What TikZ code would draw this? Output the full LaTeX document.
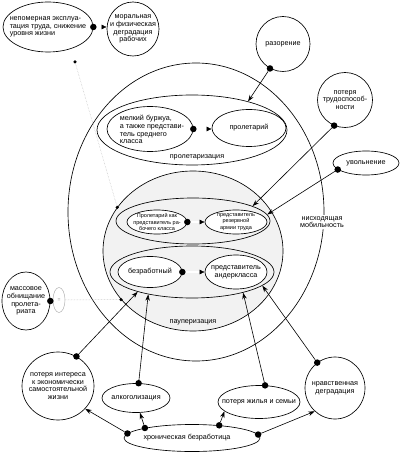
\documentclass[tikz,border=0pt]{standalone}
\usepackage{fontspec}
\setmainfont{Liberation Sans}
\usetikzlibrary{shapes.geometric,arrows.meta,calc}
\begin{document}
\begin{tikzpicture}[x=1pt,y=-1pt,
  bub/.style={draw, ellipse, inner sep=0pt, line width=0.65pt},
  lab/.style={font=\fontsize{7.2}{7.8}\selectfont, align=center, inner sep=0pt},
  slab/.style={font=\fontsize{5.5}{6.6}\selectfont, align=center, inner sep=0pt},
  bdot/.style={circle, fill=black, inner sep=0pt, minimum size=6.5pt},
  sdot/.style={circle, fill=black, inner sep=0pt, minimum size=3.5pt},
  arr/.style={-{Stealth[length=6.5pt,width=4.5pt]}, line width=0.6pt},
  dbl/.style={double, double distance=1.3pt, line width=0.45pt},
  tip/.style={-{Latex[length=5pt,width=5pt]}, line width=0.5pt},
  faint/.style={densely dotted, gray!50, line width=0.5pt}]
\useasboundingbox (0,0) rectangle (402,454);

% big regions
\node[bub, minimum width=256pt, minimum height=298pt] (mob) at (196,212) {};
\node[bub, minimum width=190pt, minimum height=70pt] (prol) at (192,130) {};
\node[bub, fill=gray!10, minimum width=180pt, minimum height=160pt] (paup) at (193,251) {};
\node[bub, minimum width=154pt, minimum height=46pt] (upc) at (193,221) {};
\node[bub, minimum width=164pt, minimum height=52pt] (lowc) at (192,272) {};

% region labels
\node[lab] (prolL) at (197,157) {пролетаризация};
\node[lab] (paupL) at (193,322) {пауперизация};
\node[lab, fill=white, inner sep=1pt] (mobL) at (322,222) {нисходящая\\мобильность};

% top-left
\node[bub, minimum width=90pt, minimum height=50pt] (e1) at (48,27) {};
\node[lab, align=left] (e1t) at (e1) {непомерная эксплуа-\\тация труда, снижение\\уровня жизни};
\node[bub, minimum width=52pt, minimum height=54pt] (e2) at (133,29) {};
\node[lab] (e2t) at (e2) {моральная\\и физическая\\деградация\\рабочих};

% proletarization inner
\node[bub, fill=white, minimum width=86pt, minimum height=45pt] (burzh) at (150,129) {};
\node[lab, align=left] (burzht) at (152,129.5) {мелкий буржуа,\\а также представи-\\тель среднего\\класса};
\node[bub, fill=white, minimum width=74pt, minimum height=37pt] (prolet) at (249,128) {};
\node[lab] (prolett) at (prolet) {пролетарий};

% pauperization inner
\node[bub, fill=white, minimum width=60pt, minimum height=24pt] (pr2) at (157,222) {};
\node[slab] (pr2t) at (pr2) {Пролетарий как\\представитель ра-\\бочего класса};
\node[bub, fill=white, minimum width=62pt, minimum height=24pt] (rez) at (236,222) {};
\node[slab] (rezt) at (rez) {представитель\\резервной\\армии труда};
\node[bub, fill=white, minimum width=64pt, minimum height=31pt] (bez) at (150,272) {};
\node[lab] (bezt) at (bez) {безработный};
\node[bub, fill=white, minimum width=62pt, minimum height=34pt] (under) at (236,272) {};
\node[lab] (undert) at (under) {представитель\\андеркласса};

% right causes
\node[bub, minimum width=54pt, minimum height=55pt] (raz) at (283,44) {};
\node[lab] (razt) at (raz) {разорение};
\node[bub, minimum width=55pt, minimum height=55pt] (trud) at (345,100) {};
\node[lab] (trudt) at (trud) {потеря\\трудоспособ-\\ности};
\node[bub, minimum width=66pt, minimum height=24pt] (uv) at (366,163) {};
\node[lab] (uvt) at (uv) {увольнение};

% left
\node[bub, minimum width=48pt, minimum height=58pt] (mass) at (26,301) {};
\node[lab] (masst) at (mass) {массовое\\обнищание\\пролета-\\риата};
\node[draw=gray!60, ellipse, inner sep=0pt, minimum width=12pt, minimum height=25pt, line width=0.5pt] (eq) at (59,300) {};
\node[font=\fontsize{5}{5}\selectfont, text=gray, inner sep=0pt] (eqt) at (eq) {=};

% bottom
\node[bub, minimum width=72pt, minimum height=68pt] (int) at (58,386) {};
\node[lab] (intt) at (int) {потеря интереса\\к экономически\\самостоятельной\\жизни};
\node[bub, minimum width=68pt, minimum height=29pt] (alk) at (136,398) {};
\node[lab] (alkt) at (alk) {алкоголизация};
\node[bub, minimum width=82pt, minimum height=33pt] (zhil) at (259,402) {};
\node[lab] (zhilt) at (zhil) {потеря жилья и семьи};
\node[bub, minimum width=60pt, minimum height=62pt] (nrav) at (335,388) {};
\node[lab] (nravt) at (nrav) {нравственная\\деградация};
\node[bub, minimum width=136pt, minimum height=27pt] (chron) at (192,438) {};
\node[lab] (chront) at (187,438) {хроническая безработица};

% dots
\node[bdot] (d1) at (e1.east) {};
\node[bdot] (d2) at (burzh.east) {};
\node[bdot] (d3) at (pr2.east) {};
\node[bdot] (d4) at (bez.east) {};
\node[bdot] (draz) at (raz.242) {};
\node[bdot] (dtrud) at (trud.247) {};
\node[bdot] (duv) at (uv.193) {};
\node[bdot] (dmass) at (mass.east) {};
\node[bdot] (dint) at (int.58) {};
\node[bdot] (dalk) at (alk.80) {};
\node[bdot] (dzhil) at (zhil.70) {};
\node[bdot] (dnrav) at (nrav.125) {};
\node[bdot] (dc1) at (chron.176) {};
\node[bdot] (dc2) at (chron.168) {};
\node[bdot] (dc3) at (chron.25) {};
\node[bdot] (dc4) at (chron.3) {};
\node[sdot] (s1) at (75,62) {};
\node[sdot] (s2) at (paup.150) {};
\node[sdot] (s3) at (paup.214) {};

% faint links
\draw[faint] (s1) -- (s2);
\draw[faint] (eq) -- (s3);

% double arrows
\draw[dbl, shorten >=4pt] (d1) -- (e2.west |- d1);
\draw[tip] ($(e2.west |- d1)+(-5,0)$) -- (e2.west |- d1);
\draw[dbl, shorten >=4pt] (d2) -- (prolet.west |- d2);
\draw[tip] ($(prolet.west |- d2)+(-5,0)$) -- (prolet.west |- d2);
\draw[dbl, shorten >=4pt] (d3) -- (rez.west |- d3);
\draw[tip] ($(rez.west |- d3)+(-5,0)$) -- (rez.west |- d3);
\draw[dbl, shorten >=4pt] (d4) -- (under.west |- d4);
\draw[tip] ($(under.west |- d4)+(-5,0)$) -- (under.west |- d4);

% arrows
\draw[arr] (draz) -- (prol.27);
\draw[arr] (dtrud) -- (upc.14);
\draw[arr] (duv) -- (upc.5);
\draw[arr] (dint) -- (lowc.200);
\draw[arr] (dalk) -- (lowc.207);
\draw[arr] (dzhil) -- (lowc.338);
\draw[arr] (dnrav) -- (lowc.349);
\draw[arr] (dc1) -- (int.320);
\draw[arr] (dc2) -- (alk.285);
\draw[arr] (dc3) -- (zhil.195);
\draw[arr] (dc4) -- (nrav.229);
\end{tikzpicture}
\end{document}
